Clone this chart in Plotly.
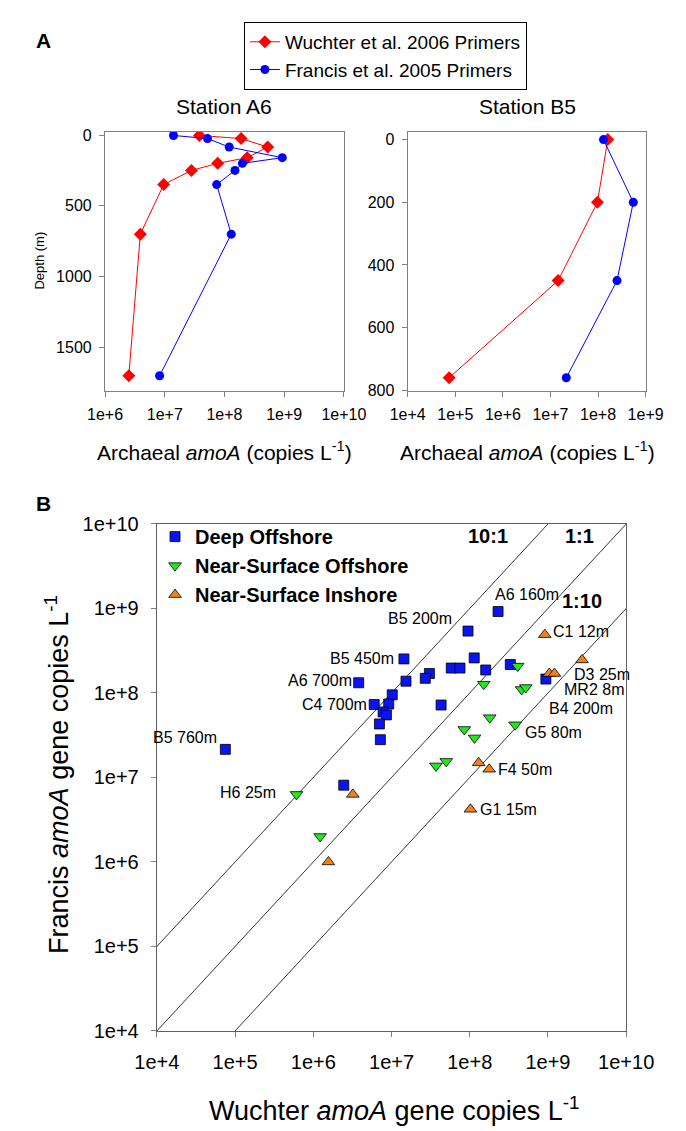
import numpy as np
import plotly.graph_objects as go

# ---- panel A : depth profiles ----
a6_depth = [3, 25, 85, 160, 200, 250, 350, 700, 1700]
a6_wuchter = [3.8e7, 1.9e8, 5.3e8, 2.4e8, 7.7e7, 2.8e7, 9.6e6, 3.9e6, 2.5e6]
a6_francis = [1.4e7, 5.2e7, 1.2e8, 9.3e8, 2.0e8, 1.5e8, 7.4e7, 1.3e8, 8.2e6]

b5_depth = [0, 200, 450, 760]
b5_wuchter = [1.6e8, 9.7e7, 1.45e7, 7.4e4]
b5_francis = [1.3e8, 5.5e8, 2.5e8, 2.15e7]

a6_exp = [6, 7, 8, 9, 10]
a6_ticktext = ["1e+6", "1e+7", "1e+8", "1e+9", "1e+10"]
b5_exp = [4, 5, 6, 7, 8, 9]
b5_ticktext = ["1e+4", "1e+5", "1e+6", "1e+7", "1e+8", "1e+9"]
a6_depth_ticks = [0, 500, 1000, 1500]
b5_depth_ticks = [0, 200, 400, 600, 800]

# ---- panel B : Wuchter (x) vs Francis (y) ----
deep_x = [2.3e8, 9.5e7, 1.14e8, 3.3e8, 1.6e8, 5.8e7, 7.5e7, 1.44e7, 3.05e7, 2.7e7,
          1.53e7, 3.8e6, 1.02e7, 9.4e8, 4.3e7, 6.0e6, 9.2e6, 7.8e6, 8.6e6, 7.0e6,
          7.2e6, 7.5e4, 2.45e6]
deep_y = [9.2e8, 5.4e8, 2.6e8, 2.17e8, 1.87e8, 1.97e8, 1.97e8, 2.53e8, 1.7e8, 1.49e8,
          1.38e8, 1.32e8, 9.5e7, 1.46e8, 7.2e7, 7.3e7, 7.4e7, 5.96e7, 5.5e7, 4.3e7,
          2.8e7, 2.15e7, 8.1e6]
deep_lbl = ["A6 160m", "B5 200m", "", "", "", "", "", "B5 450m", "", "",
            "", "A6 700m", "", "B4 200m", "", "C4 700m", "", "", "", "",
            "", "B5 760m", ""]

nso_x = [4.1e8, 1.51e8, 4.6e8, 5.2e8, 1.8e8, 3.8e8, 8.5e7, 1.15e8, 3.7e7, 5.0e7, 6.1e5, 1.22e6]
nso_y = [2.08e8, 1.27e8, 1.1e8, 1.16e8, 5.1e7, 4.2e7, 3.7e7, 2.94e7, 1.37e7, 1.55e7, 6.3e6, 2.0e6]
nso_lbl = ["", "", "", "", "", "G5 80m", "", "", "", "", "H6 25m", ""]

nsi_x = [9.1e8, 2.73e9, 1.04e9, 1.21e9, 1.3e8, 1.77e8, 3.2e6, 1.02e8, 1.56e6]
nsi_y = [4.9e8, 2.46e8, 1.7e8, 1.7e8, 1.49e7, 1.25e7, 6.3e6, 4.2e6, 1.0e6]
nsi_lbl = ["C1 12m", "", "MR2 8m", "D3 25m", "", "F4 50m", "", "G1 15m", ""]

ratios = [10, 1, 0.1]
ratio_names = ["10:1", "1:1", "1:10"]
sc_exp = [4, 5, 6, 7, 8, 9, 10]
sc_ticktext = ["1e+4", "1e+5", "1e+6", "1e+7", "1e+8", "1e+9", "1e+10"]

FONT = "Arial, Liberation Sans, sans-serif"
W, H = 686, 1131

fig = go.Figure()

# profiles
for xa, ya, d, wv, fv, show in [("x", "y", a6_depth, a6_wuchter, a6_francis, True),
                                ("x2", "y2", b5_depth, b5_wuchter, b5_francis, False)]:
    fig.add_trace(go.Scatter(x=wv, y=d, xaxis=xa, yaxis=ya, mode="lines+markers",
                             name="Wuchter et al. 2006 Primers", showlegend=show,
                             line=dict(color="#ff0000", width=1),
                             marker=dict(symbol="diamond", size=10, color="#ff0000"),
                             legendgroup="w"))
    fig.add_trace(go.Scatter(x=fv, y=d, xaxis=xa, yaxis=ya, mode="lines+markers",
                             name="Francis et al. 2005 Primers", showlegend=show,
                             line=dict(color="#0000ff", width=1),
                             marker=dict(symbol="circle", size=9, color="#0000ff"),
                             legendgroup="f"))

# 10:1, 1:1, 1:10 lines
for r in ratios:
    fig.add_trace(go.Scatter(x=[1e2, 1e12], y=[r * 1e2, r * 1e12], xaxis="x3", yaxis="y3",
                             mode="lines", line=dict(color="black", width=0.8),
                             showlegend=False, hoverinfo="skip"))

groups = [
    ("Deep Offshore", deep_x, deep_y, "square", "#0a14f0", 10),
    ("Near-Surface Offshore", nso_x, nso_y, "triangle-down", "#22e81e", 11),
    ("Near-Surface Inshore", nsi_x, nsi_y, "triangle-up", "#f08020", 11),
]
for name, gx, gy, sym, col, sz in groups:
    fig.add_trace(go.Scatter(x=gx, y=gy, xaxis="x3", yaxis="y3", mode="markers",
                             name=name, legend="legend2",
                             marker=dict(symbol=sym, size=sz, color=col,
                                         line=dict(color="black", width=0.8))))

# point labels: xanchor, xshift, yshift (px)
lbl_style = {
    "A6 160m": ("left", -5, 17), "B5 200m": ("right", -14, 13),
    "B5 450m": ("right", -8, 0), "A6 700m": ("right", -5, 2),
    "C4 700m": ("right", -5, 0), "B5 760m": ("right", -6, 12),
    "B4 200m": ("left", 1, -29), "G5 80m": ("left", 8, -8),
    "H6 25m": ("right", -19, 2), "C1 12m": ("left", 6, 3),
    "MR2 8m": ("left", 13, -16), "D3 25m": ("left", 18, -1),
    "F4 50m": ("left", 7, 0), "G1 15m": ("left", 8, 0),
}
ann = []
for gx, gy, gl in [(deep_x, deep_y, deep_lbl), (nso_x, nso_y, nso_lbl), (nsi_x, nsi_y, nsi_lbl)]:
    for px, py, t in zip(gx, gy, gl):
        if not t:
            continue
        xa, xs, ys = lbl_style[t]
        ann.append(dict(x=np.log10(px), y=np.log10(py), xref="x3", yref="y3", text=t,
                        showarrow=False, xanchor=xa, yanchor="middle", xshift=xs, yshift=ys,
                        font=dict(size=16, color="black", family=FONT)))

for t, px, py in zip(ratio_names, [517, 610, 619], [527, 527, 594]):
    ann.append(dict(x=px / W, y=1 - py / H, xref="paper", yref="paper", text="<b>%s</b>" % t,
                    showarrow=False, font=dict(size=20, color="black", family=FONT)))


def txt(s, px, py, size, angle=0, bold=False):
    if bold:
        s = "<b>%s</b>" % s
    ann.append(dict(x=px / W, y=1 - py / H, xref="paper", yref="paper", text=s,
                    showarrow=False, textangle=angle, xanchor="center", yanchor="middle",
                    font=dict(size=size, color="black", family=FONT)))


txt("A", 14, 22, 21, bold=True)
txt("B", 14, 494, 21, bold=True)
txt("Station A6", 209, 89, 21)
txt("Station B5", 536, 89, 21)
txt("Archaeal <i>amoA</i> (copies L<sup>-1</sup>)", 209, 441, 21)
txt("Archaeal <i>amoA</i> (copies L<sup>-1</sup>)", 536, 441, 21)
txt("Depth (m)", 9, 246, 13, angle=-90)
txt("Wuchter <i>amoA</i> gene copies L<sup>-1</sup>", 393, 1112, 27)
txt("Francis <i>amoA</i> gene copies L<sup>-1</sup>", 28, 770, 27, angle=-90)

frame = dict(showline=True, mirror=True, linecolor="#808080", linewidth=1.3, ticks="outside",
             ticklen=5, tickcolor="#808080", showgrid=False, zeroline=False,
             tickfont=dict(size=16, color="black", family=FONT))
sc_frame = {**frame, "linecolor": "#606060",
            "tickfont": dict(size=20, color="black", family=FONT)}

fig.update_layout(
    width=W, height=H, autosize=False,
    margin=dict(l=0, r=0, t=0, b=0),
    paper_bgcolor="white", plot_bgcolor="white",
    font=dict(family=FONT, color="black"),
    xaxis=dict(type="log", range=[6, 10], domain=[80 / W, 338 / W], anchor="y",
               tickvals=[10.0 ** e for e in a6_exp], ticktext=a6_ticktext,
               ticklabelstandoff=4, **frame),
    yaxis=dict(range=[1805, -23], domain=[1 - 379 / H, 1 - 115 / H], anchor="x",
               tickvals=a6_depth_ticks, ticklabelstandoff=4, **frame),
    xaxis2=dict(type="log", range=[4, 9], domain=[407 / W, 664 / W], anchor="y2",
                tickvals=[10.0 ** e for e in b5_exp], ticktext=b5_ticktext,
                ticklabelstandoff=4, **frame),
    yaxis2=dict(range=[801, -25], domain=[1 - 379 / H, 1 - 115 / H], anchor="x2",
                tickvals=b5_depth_ticks, ticklabelstandoff=4, **frame),
    xaxis3=dict(type="log", range=[4, 10], domain=[136 / W, 643 / W], anchor="y3",
                tickvals=[10.0 ** e for e in sc_exp], ticktext=sc_ticktext,
                ticklabelstandoff=8, **sc_frame),
    yaxis3=dict(type="log", range=[4, 10], domain=[1 - 1032 / H, 1 - 515 / H], anchor="x3",
                tickvals=[10.0 ** e for e in sc_exp], ticktext=sc_ticktext,
                ticklabelstandoff=8, **sc_frame),
    legend=dict(x=230 / W, y=1 - 3 / H, xanchor="left", yanchor="top",
                bordercolor="black", borderwidth=1, bgcolor="white",
                font=dict(size=19, color="black", family=FONT), tracegroupgap=0),
    legend2=dict(x=134 / W, y=1 - 508 / H, xanchor="left", yanchor="top",
                 bgcolor="rgba(0,0,0,0)",
                 font=dict(size=20, color="black", family=FONT, weight="bold")),
    annotations=ann,
    showlegend=True,
)

fig.write_html("out.html")
